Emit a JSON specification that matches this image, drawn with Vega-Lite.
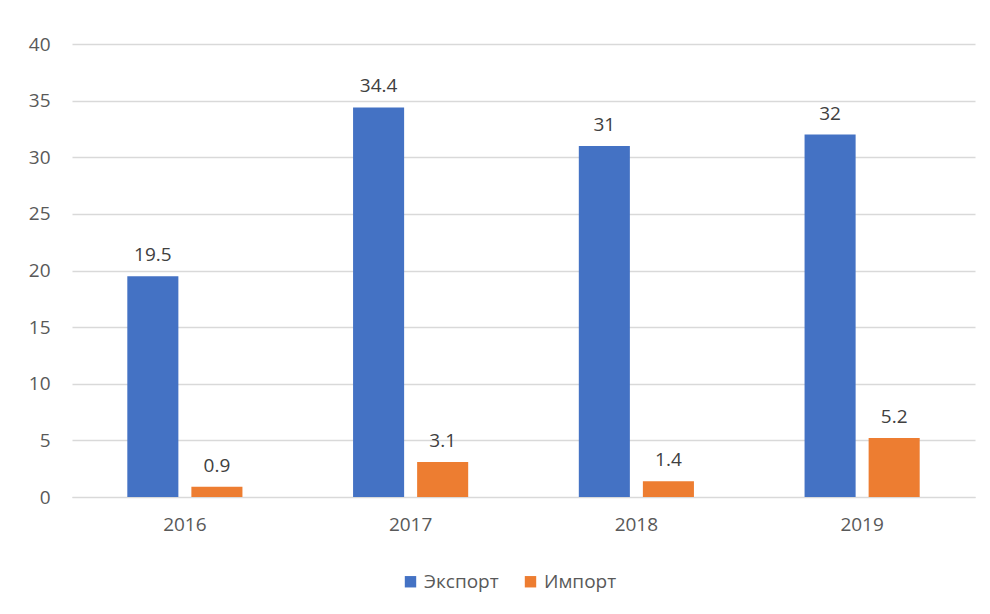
{
  "$schema": "https://vega.github.io/schema/vega-lite/v6.json",
  "width": 903,
  "height": 453,
  "autosize": "none",
  "padding": {"left": 72, "top": 44, "right": 15, "bottom": 117},
  "background": "white",
  "data": {
    "values": [
      {"year": "2016", "type": "Экспорт", "value": 19.5},
      {"year": "2016", "type": "Импорт", "value": 0.9},
      {"year": "2017", "type": "Экспорт", "value": 34.4},
      {"year": "2017", "type": "Импорт", "value": 3.1},
      {"year": "2018", "type": "Экспорт", "value": 31},
      {"year": "2018", "type": "Импорт", "value": 1.4},
      {"year": "2019", "type": "Экспорт", "value": 32},
      {"year": "2019", "type": "Импорт", "value": 5.2}
    ]
  },
  "encoding": {
    "x": {
      "field": "year", "type": "nominal", "title": null,
      "scale": {"paddingInner": 0.49, "paddingOuter": 0.245},
      "axis": {"labelAngle": 0, "ticks": false, "domain": true, "domainColor": "#d9d9d9", "labelPadding": 18, "labelFontSize": 19, "labelColor": "#595959", "labelFont": "Open Sans"}
    },
    "xOffset": {
      "field": "type", "type": "nominal", "sort": ["Экспорт", "Импорт"],
      "scale": {"paddingInner": 0.203, "paddingOuter": 0}
    },
    "y": {
      "field": "value", "type": "quantitative", "title": null,
      "scale": {"domain": [0, 40], "nice": false},
      "axis": {"values": [0, 5, 10, 15, 20, 25, 30, 35, 40], "ticks": false, "domain": false, "gridColor": "#d9d9d9", "gridWidth": 1.3, "labelPadding": 22, "labelFontSize": 19, "labelColor": "#595959", "labelFont": "Open Sans"}
    }
  },
  "layer": [
    {
      "mark": {"type": "bar"},
      "encoding": {
        "color": {
          "field": "type", "type": "nominal", "sort": ["Экспорт", "Импорт"],
          "scale": {"domain": ["Экспорт", "Импорт"], "range": ["#4472C4", "#ED7D31"]},
          "legend": {"title": null, "orient": "none", "legendX": 329, "legendY": 528, "direction": "horizontal", "symbolType": "square", "symbolSize": 130, "symbolStrokeWidth": 0, "labelFontSize": 19, "labelColor": "#595959", "labelFont": "Open Sans", "columnPadding": 22, "labelOffset": 4}
        }
      }
    },
    {
      "mark": {"type": "text", "baseline": "alphabetic", "dy": -15, "fontSize": 19, "font": "Open Sans", "color": "#404040"},
      "encoding": {
        "text": {"field": "value", "type": "quantitative"}
      }
    }
  ],
  "config": {
    "view": {"stroke": null}
  }
}
